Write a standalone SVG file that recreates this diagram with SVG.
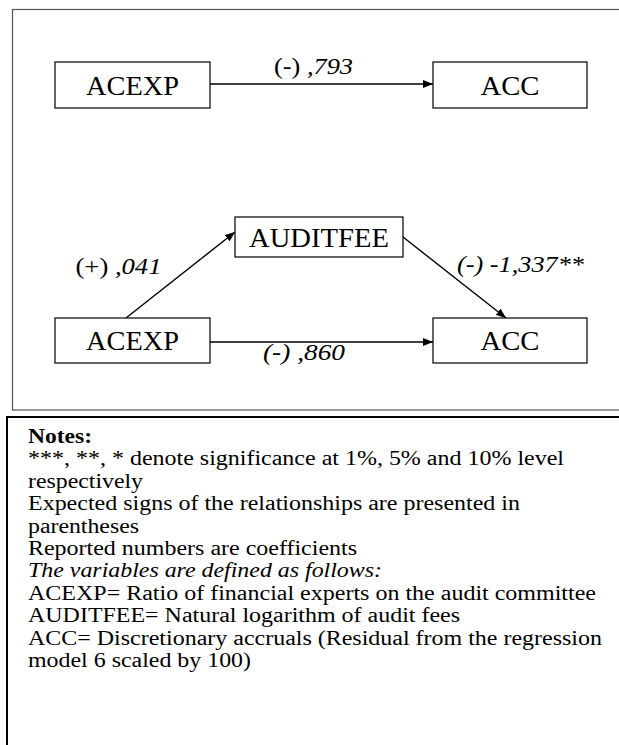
<svg xmlns="http://www.w3.org/2000/svg" width="619" height="745" viewBox="0 0 619 745">
<defs>
<marker id="ah" markerWidth="10" markerHeight="8" refX="10" refY="4" orient="auto" markerUnits="userSpaceOnUse">
<path d="M0,0 L10,4 L0,8 Z" fill="#000"/>
</marker>
<style>
.box{fill:#fff;stroke:#000;stroke-width:1.2}
.nt{font-family:"Liberation Serif","Times New Roman",serif;font-size:28px;fill:#000;text-anchor:middle}
.lb{font-family:"Liberation Serif","Times New Roman",serif;font-size:24px;fill:#000}
.it{font-style:italic}
.cn{stroke:#000;stroke-width:1.4;fill:none;marker-end:url(#ah)}
.notes{font-family:"Liberation Serif","Times New Roman",serif;font-size:20px;fill:#000}
</style>
</defs>
<rect width="619" height="745" fill="#fff"/>
<rect x="12.5" y="9.5" width="640" height="400.5" fill="none" stroke="#555" stroke-width="1.2"/>
<rect x="7" y="417" width="640" height="360" fill="none" stroke="#000" stroke-width="2"/>

<g id="connectors">
<line class="cn" x1="210" y1="84" x2="433" y2="84"/>
<line class="cn" x1="126" y1="318" x2="235" y2="232"/>
<line class="cn" x1="403" y1="237" x2="506" y2="318"/>
<line class="cn" x1="210" y1="342" x2="433" y2="342"/>
<text class="lb" x="274" y="74" textLength="79" lengthAdjust="spacingAndGlyphs">(-) <tspan class="it">,793</tspan></text>
<text class="lb" x="75.5" y="274" textLength="86" lengthAdjust="spacingAndGlyphs">(+) <tspan class="it">,041</tspan></text>
<text class="lb it" x="457" y="272" textLength="127" lengthAdjust="spacingAndGlyphs">(-) -1,337**</text>
<text class="lb it" x="263" y="360" textLength="82" lengthAdjust="spacingAndGlyphs">(-) ,860</text>
</g>

<g id="acexp1"><rect class="box" x="55" y="62" width="155" height="46"/><text class="nt" x="132.5" y="95" textLength="93" lengthAdjust="spacingAndGlyphs">ACEXP</text></g>
<g id="acc1"><rect class="box" x="433" y="62" width="154" height="46"/><text class="nt" x="510" y="95" textLength="59" lengthAdjust="spacingAndGlyphs">ACC</text></g>
<g id="auditfee"><rect class="box" x="235" y="217" width="168" height="40"/><text class="nt" x="319" y="247" textLength="140" lengthAdjust="spacingAndGlyphs">AUDITFEE</text></g>
<g id="acexp2"><rect class="box" x="55" y="318" width="155" height="45"/><text class="nt" x="132.5" y="350" textLength="93" lengthAdjust="spacingAndGlyphs">ACEXP</text></g>
<g id="acc2"><rect class="box" x="433" y="318" width="154" height="45"/><text class="nt" x="510" y="350" textLength="59" lengthAdjust="spacingAndGlyphs">ACC</text></g>

<g id="notes" class="notes">
<text x="28" y="443" font-weight="bold" textLength="64" lengthAdjust="spacingAndGlyphs">Notes:</text>
<text x="28" y="465.4" textLength="536" lengthAdjust="spacingAndGlyphs">***, **, * denote significance at 1%, 5% and 10% level</text>
<text x="28" y="487.8" textLength="115" lengthAdjust="spacingAndGlyphs">respectively</text>
<text x="28" y="510.2" textLength="492" lengthAdjust="spacingAndGlyphs">Expected signs of the relationships are presented in</text>
<text x="28" y="532.6" textLength="111" lengthAdjust="spacingAndGlyphs">parentheses</text>
<text x="28" y="555" textLength="329" lengthAdjust="spacingAndGlyphs">Reported numbers are coefficients</text>
<text x="28" y="577.4" font-style="italic" textLength="354" lengthAdjust="spacingAndGlyphs">The variables are defined as follows:</text>
<text x="28" y="599.8" textLength="568" lengthAdjust="spacingAndGlyphs">ACEXP= Ratio of financial experts on the audit committee</text>
<text x="28" y="622.2" textLength="432" lengthAdjust="spacingAndGlyphs">AUDITFEE= Natural logarithm of audit fees</text>
<text x="28" y="644.6" textLength="574" lengthAdjust="spacingAndGlyphs">ACC= Discretionary accruals (Residual from the regression</text>
<text x="28" y="667" textLength="223" lengthAdjust="spacingAndGlyphs">model 6 scaled by 100)</text>
</g>
</svg>
